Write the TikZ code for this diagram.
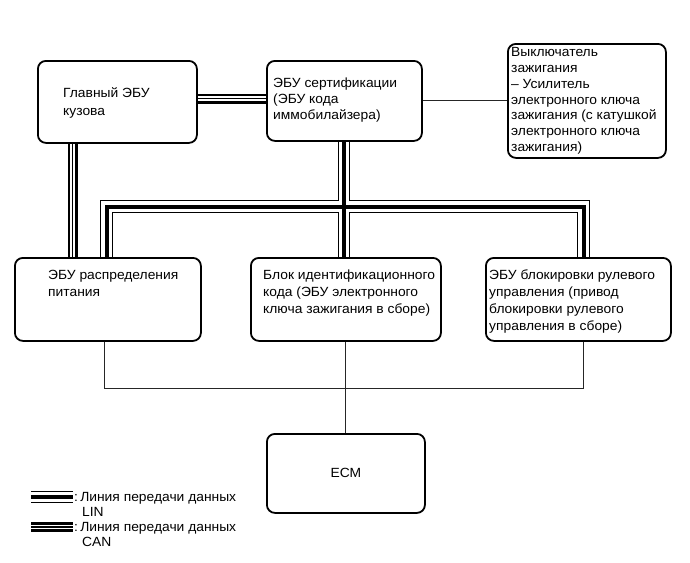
\documentclass[tikz,border=0pt]{standalone}
\usepackage{fontspec}
\setmainfont{Liberation Sans}[FakeStretch=1.04]
\usetikzlibrary{backgrounds}
\begin{document}
\begin{tikzpicture}[x=1pt,y=-1pt,
  box/.style={draw, line width=1.8pt, rounded corners=8pt, inner sep=0pt, anchor=north west},
  lbl/.style={anchor=base west, align=left, inner sep=0pt, font=\fontsize{13.3}{16.5}\selectfont},
  linA/.style={line width=12.4pt, black},
  linB/.style={line width=10.4pt, white},
  linC/.style={line width=4pt, black},
  canA/.style={line width=10pt, black},
  canB/.style={line width=4.6pt, white},
  canC/.style={line width=1.2pt, black},
  wire/.style={line width=0.9pt, black!85}]

\begin{scope}[on background layer]
  \fill[white] (0,0) rectangle (690,562);
\end{scope}
\useasboundingbox (0,0) rectangle (690,562);

% boxes
\node[box, minimum width=159pt, minimum height=82pt] (body) at (37,60) {};
\node[box, minimum width=155pt, minimum height=80pt] (cert) at (266,60) {};
\node[box, minimum width=158pt, minimum height=114pt] (ign) at (507,43) {};
\node[box, minimum width=186pt, minimum height=83pt] (dist) at (14,257) {};
\node[box, minimum width=190pt, minimum height=83pt] (idc) at (250,257) {};
\node[box, minimum width=185pt, minimum height=83pt] (steer) at (485,257) {};
\node[box, minimum width=158pt, minimum height=79pt, font=\fontsize{13.3}{15}\selectfont] (ecm) at (266,433) {ECM};

% labels (anchor = baseline of last line)
\node[lbl, font=\fontsize{13.3}{17.3}\selectfont] (tbody) at (63,115) {Главный ЭБУ\\кузова};
\node[lbl, font=\fontsize{13.3}{16}\selectfont] (tcert) at (273,119) {ЭБУ сертификации\\(ЭБУ кода\\иммобилайзера)};
\node[lbl, font=\fontsize{13.3}{15.8}\selectfont] (tign) at (511,151.5) {Выключатель\\зажигания\\– Усилитель\\электронного ключа\\зажигания (с катушкой\\электронного ключа\\зажигания)};
\node[lbl, font=\fontsize{13.3}{17}\selectfont] (tdist) at (48,296) {ЭБУ распределения\\питания};
\node[lbl, font=\fontsize{13.3}{17}\selectfont] (tidc) at (263,313) {Блок идентификационного\\кода (ЭБУ электронного\\ключа зажигания в сборе)};
\node[lbl, font=\fontsize{13.3}{17}\selectfont] (tsteer) at (489,330) {ЭБУ блокировки рулевого\\управления (привод\\блокировки рулевого\\управления в сборе)};

% helper coordinates
\coordinate (hv) at (0,98.5);
\coordinate (bv) at (72.5,0);
\coordinate (bL) at (106.5,206.5);
\coordinate (bC) at (344,206.5);
\coordinate (bR) at (583.5,206.5);
\coordinate (lL) at (104,388);
\coordinate (lR) at (583.5,388);
\coordinate (lC) at (345,388);
\coordinate (g1a) at (31,497);
\coordinate (g1b) at (73,497);
\coordinate (g2a) at (31,527);
\coordinate (g2b) at (73,527);

\begin{scope}[on background layer]
  \foreach \s in {linA,linB,linC}{
    \draw[\s] (dist.north -| bL) -- (bL) -- (bR) -- (steer.north -| bR);
    \draw[\s] (cert.south -| bC) -- (idc.north -| bC);
    \draw[\s] (g1a) -- (g1b);
  }
  \foreach \s in {canA,canB,canC}{
    \draw[\s] (body.east |- hv) -- (cert.west |- hv);
    \draw[\s] (body.south -| bv) -- (dist.north -| bv);
    \draw[\s] (g2a) -- (g2b);
  }
  \draw[wire] (cert.east) -- (cert.east -| ign.west);
  \draw[wire] (dist.south -| lL) -- (lL) -- (lR) -- (steer.south -| lR);
  \draw[wire] (idc.south -| lC) -- (ecm.north -| lC);
\end{scope}

% legend
\node[lbl, font=\fontsize{13.3}{14.5}\selectfont] (leg1) at (74,516) {:\,Линия передачи данных\\\hspace*{8pt}LIN};
\node[lbl, font=\fontsize{13.3}{14.5}\selectfont] (leg2) at (74,546) {:\,Линия передачи данных\\\hspace*{8pt}CAN};
\end{tikzpicture}
\end{document}
